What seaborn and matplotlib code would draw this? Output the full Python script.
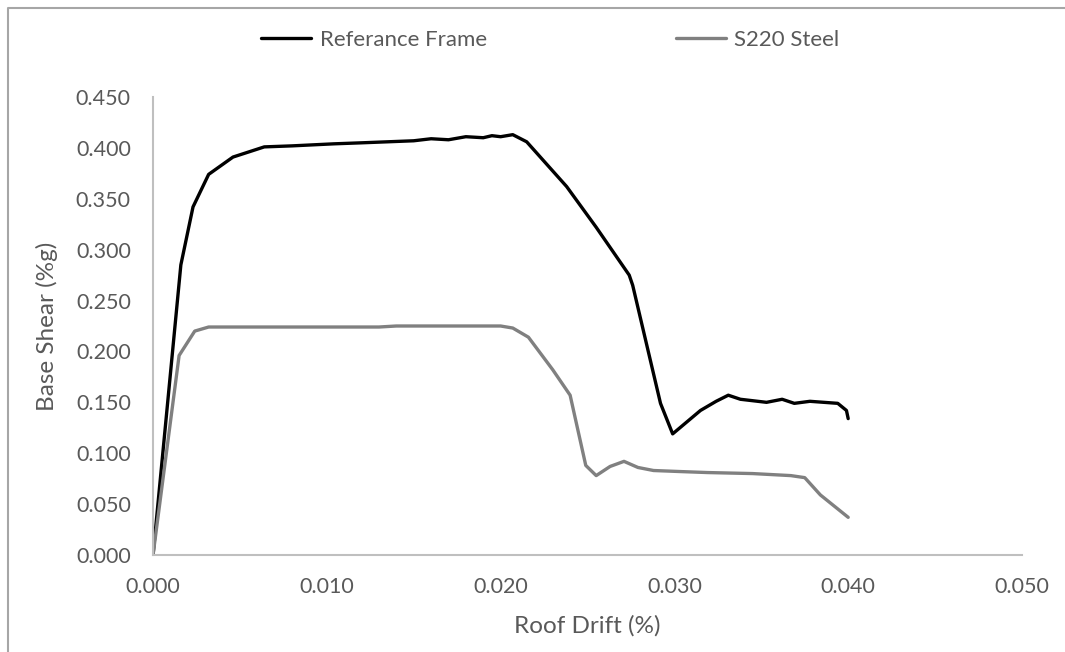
import numpy as np
import pandas as pd
import matplotlib
matplotlib.use("Agg")
import matplotlib.pyplot as plt
import seaborn as sns
from matplotlib.lines import Line2D

# -----------------------------
# Data
# -----------------------------
ref_drift = [0.0000, 0.0016, 0.0023, 0.0032, 0.0046, 0.0064, 0.0080, 0.0104, 0.0120,
             0.0135, 0.0150, 0.0160, 0.0170, 0.0180, 0.0190, 0.0195, 0.0200, 0.0207,
             0.0215, 0.0238, 0.0255, 0.0274, 0.0276, 0.0292, 0.0299, 0.0315, 0.0324,
             0.0331, 0.0338, 0.0353, 0.0362, 0.0369, 0.0378, 0.0394, 0.0399, 0.0400]
ref_shear = [0.000, 0.285, 0.342, 0.374, 0.391, 0.401, 0.402, 0.404, 0.405,
             0.406, 0.407, 0.409, 0.408, 0.411, 0.410, 0.412, 0.411, 0.413,
             0.406, 0.362, 0.322, 0.275, 0.265, 0.149, 0.119, 0.142, 0.151,
             0.157, 0.153, 0.150, 0.153, 0.149, 0.151, 0.149, 0.142, 0.134]

s220_drift = [0.0000, 0.0015, 0.0024, 0.0032, 0.0130, 0.0140, 0.0200, 0.0207, 0.0216,
              0.0230, 0.0240, 0.0249, 0.0255, 0.0263, 0.0271, 0.0279, 0.0288, 0.0303,
              0.0319, 0.0345, 0.0367, 0.0375, 0.0384, 0.0400]
s220_shear = [0.000, 0.196, 0.220, 0.224, 0.224, 0.225, 0.225, 0.223, 0.214,
              0.182, 0.157, 0.088, 0.078, 0.087, 0.092, 0.086, 0.083, 0.082,
              0.081, 0.080, 0.078, 0.076, 0.059, 0.037]

series_names = ["Referance Frame", "S220 Steel"]
x_ticks = [0.000, 0.010, 0.020, 0.030, 0.040, 0.050]
y_ticks = [0.000, 0.050, 0.100, 0.150, 0.200, 0.250, 0.300, 0.350, 0.400, 0.450]

df = pd.concat([
    pd.DataFrame({"drift": ref_drift, "shear": ref_shear, "series": series_names[0]}),
    pd.DataFrame({"drift": s220_drift, "shear": s220_shear, "series": series_names[1]}),
], ignore_index=True)

# -----------------------------
# Plot
# -----------------------------
sns.set_style("white")
plt.rcParams["font.family"] = ["Lato", "DejaVu Sans"]
text_col = "#595959"
axis_col = "#BFBFBF"

fig = plt.figure(figsize=(10.65, 6.52), dpi=100)
ax = fig.add_axes([0.1437, 0.1488, 0.8159, 0.7024])

sns.lineplot(data=df, x="drift", y="shear", hue="series", sort=False,
             palette={series_names[0]: "#000000", series_names[1]: "#808080"},
             linewidth=2.4, estimator=None, ax=ax, legend=False)

ax.set_xlim(0, 0.050)
ax.set_ylim(0, 0.450)
ax.set_xticks(x_ticks)
ax.set_yticks(y_ticks)
ax.set_xticklabels([f"{v:.3f}" for v in x_ticks])
ax.set_yticklabels([f"{v:.3f}" for v in y_ticks])
ax.tick_params(axis="both", length=0, labelsize=15.5, colors=text_col)
ax.tick_params(axis="x", pad=16)
ax.tick_params(axis="y", pad=16)

for side in ["top", "right"]:
    ax.spines[side].set_visible(False)
for side in ["left", "bottom"]:
    ax.spines[side].set_color(axis_col)
    ax.spines[side].set_linewidth(1.5)

ax.set_xlabel("Roof Drift (%)", fontsize=17.5, color=text_col, labelpad=13)
ax.set_ylabel("Base Shear (%g)", fontsize=17.5, color=text_col, labelpad=13)

# legend across the top
handles = [Line2D([], [], color="#000000", lw=2.4),
           Line2D([], [], color="#808080", lw=2.4)]
fig.legend(handles, series_names, loc="center", bbox_to_anchor=(0.5165, 0.9387),
           ncol=2, frameon=False, fontsize=16, labelcolor=text_col,
           handlelength=2.25, handletextpad=0.4, columnspacing=8.5)

# chart border (only left and top edges are inside the picture)
border_x = 7.5 / 1065
border_y = 1 - 8 / 652
fig.add_artist(Line2D([border_x, border_x, 1.0], [0.0, border_y, border_y],
                      transform=fig.transFigure, color="#A6A6A6", linewidth=1.5))

plt.savefig("out.png", dpi=100)
